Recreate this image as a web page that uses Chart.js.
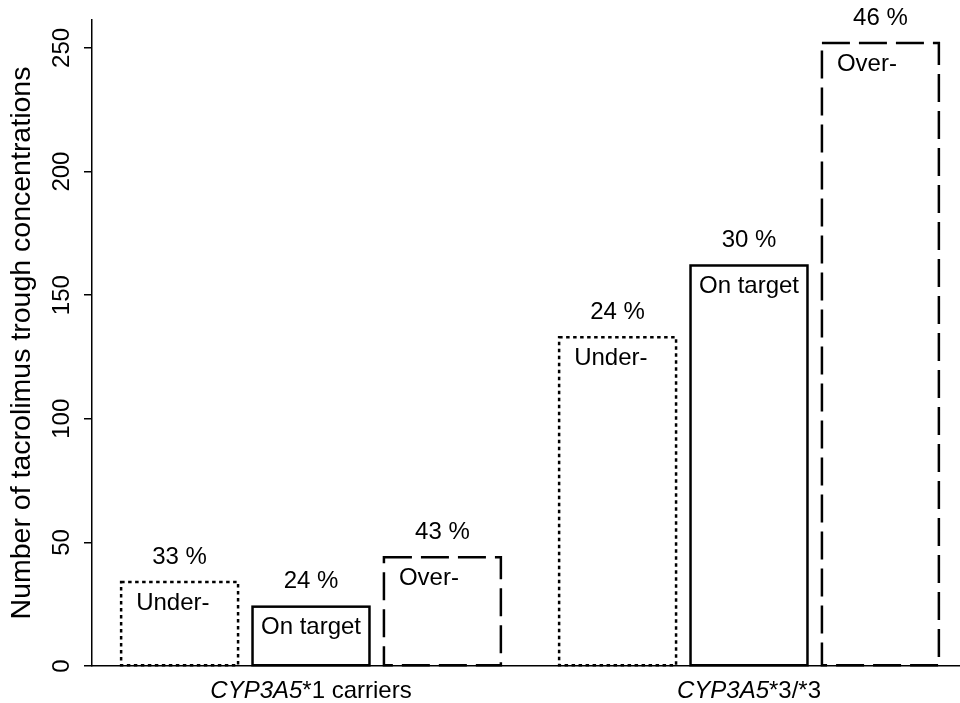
<!DOCTYPE html>
<html>
<head>
<meta charset="utf-8">
<script src="https://cdn.jsdelivr.net/npm/chart.js@4"></script>
<style>
  body { margin: 0; background: #fff; }
</style>
</head>
<body>
<canvas id="grafico" width="960" height="703"></canvas>
<script>
// datos
const categorias = ["CYP3A5*1 carriers", "CYP3A5*3/*3"];
const series = ["Under-", "On target", "Over-"];
const valoresUnder = [34, 133];
const valoresOnTarget = [24, 162];
const valoresOver = [44, 252];
const porcentajesUnder = [33, 24];
const porcentajesOnTarget = [24, 30];
const porcentajesOver = [43, 46];
const ticksY = [0, 50, 100, 150, 200, 250];

const valores = [valoresUnder, valoresOnTarget, valoresOver];
const porcentajes = [porcentajesUnder, porcentajesOnTarget, porcentajesOver];

const fuente = '"Liberation Sans", Arial, sans-serif';
const trazos = [[3.5, 3.5], [], [28, 9]]; // punteado, solido, rayas largas

// el eje x del original sigue un poco mas alla del borde derecho
const extenderEjeX = {
  id: "extenderEjeX",
  afterLayout(chart) {
    const s = chart.scales.x;
    s.right = s.left + 876;
    s.width = s.right - s.left;
    s.configure();
  }
};

// Chart.js no tiene bordes punteados en barras: los trazamos sobre cada barra
const dibujarBarras = {
  id: "dibujarBarras",
  afterDatasetsDraw(chart) {
    const ctx = chart.ctx;
    ctx.save();
    ctx.strokeStyle = "#000";
    ctx.fillStyle = "#000";
    ctx.lineWidth = 2.5;
    chart.data.datasets.forEach((ds, i) => {
      const meta = chart.getDatasetMeta(i);
      meta.data.forEach((bar, j) => {
        const izq = bar.x - bar.width / 2;
        ctx.setLineDash(trazos[i]);
        ctx.strokeRect(izq, bar.y, bar.width, bar.base - bar.y);
        ctx.setLineDash([]);

        ctx.font = "24px " + fuente;
        ctx.textBaseline = "middle";
        ctx.textAlign = "center";
        ctx.fillText(porcentajes[i][j] + " %", bar.x, bar.y - 25);
        if (i === 1) {
          ctx.fillText(ds.label, bar.x, bar.y + 21);
        } else {
          ctx.textAlign = "left";
          ctx.fillText(ds.label, izq + 15, bar.y + 21);
        }
      });
    });
    ctx.restore();
  }
};

// etiquetas de los ejes (numeros girados y nombre del gen en cursiva)
const dibujarEjes = {
  id: "dibujarEjes",
  afterDraw(chart) {
    const ctx = chart.ctx;
    const ejeY = chart.scales.y;
    const ejeX = chart.scales.x;
    ctx.save();
    ctx.fillStyle = "#000";
    ctx.textBaseline = "middle";

    ctx.font = "24px " + fuente;
    ctx.textAlign = "center";
    ejeY.ticks.forEach(t => {
      ctx.save();
      ctx.translate(ejeY.right - 30, ejeY.getPixelForValue(t.value));
      ctx.rotate(-Math.PI / 2);
      ctx.fillText(String(t.value), 0, 0);
      ctx.restore();
    });

    ctx.textAlign = "left";
    categorias.forEach((c, i) => {
      const corte = c.indexOf("*");
      const gen = c.slice(0, corte);
      const resto = c.slice(corte);
      ctx.font = "italic 24px " + fuente;
      const anchoGen = ctx.measureText(gen).width;
      ctx.font = "24px " + fuente;
      const anchoResto = ctx.measureText(resto).width;
      const inicio = ejeX.getPixelForValue(i) - (anchoGen + anchoResto) / 2;
      const yTexto = ejeX.top + 25;
      ctx.font = "italic 24px " + fuente;
      ctx.fillText(gen, inicio, yTexto);
      ctx.font = "24px " + fuente;
      ctx.fillText(resto, inicio + anchoGen, yTexto);
    });
    ctx.restore();
  }
};

const ctx = document.getElementById("grafico").getContext("2d");
const chart = new Chart(ctx, {
  type: "bar",
  data: {
    labels: categorias,
    datasets: series.map((nombre, i) => ({
      label: nombre,
      data: valores[i],
      backgroundColor: "rgba(0,0,0,0)",
      borderWidth: 0,
      categoryPercentage: 0.9,
      barPercentage: 0.89
    }))
  },
  options: {
    responsive: false,
    animation: false,
    layout: { padding: { top: 20, right: 0, left: 0, bottom: 0 } },
    plugins: {
      legend: { display: false },
      tooltip: { enabled: false }
    },
    scales: {
      x: {
        grid: { display: false },
        border: { display: true, color: "#000", width: 1.5 },
        ticks: { display: false },
        afterFit: s => { s.height = 37; }
      },
      y: {
        min: 0,
        max: 261.3,
        afterBuildTicks: s => { s.ticks = ticksY.map(v => ({ value: v })); },
        ticks: { display: false },
        grid: { drawOnChartArea: false, drawTicks: true, tickLength: 8, color: "#000", lineWidth: 1.5 },
        border: { display: true, color: "#000", width: 1.5 },
        title: {
          display: true,
          text: "Number of tacrolimus trough concentrations",
          color: "#000",
          font: { size: 28.5, family: fuente },
          padding: { top: 5, bottom: 0 }
        },
        afterFit: s => { s.width = 92; }
      }
    }
  },
  plugins: [extenderEjeX, dibujarBarras, dibujarEjes]
});
</script>
</body>
</html>
